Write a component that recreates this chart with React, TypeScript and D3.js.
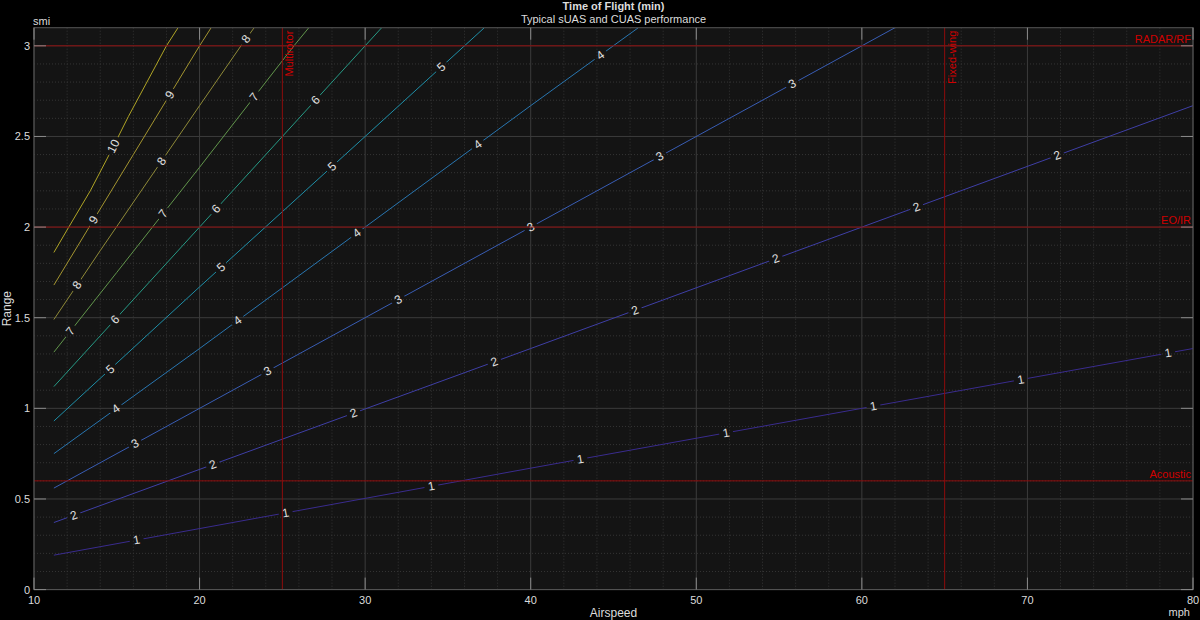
import React from 'react';
import * as d3 from 'd3';

// Time of flight contours: [airspeed mph, range smi]
const tof1: [number, number][] = [[11.2, 0.19], [40, 0.67], [80, 1.33]];
const tof2: [number, number][] = [[11.2, 0.37], [40, 1.33], [80, 2.67]];
const tof3: [number, number][] = [[11.2, 0.56], [30, 1.5], [62, 3.1]];
const tof4: [number, number][] = [[11.2, 0.75], [20, 1.33], [30, 2.0], [40, 2.67], [46.5, 3.1]];
const tof5: [number, number][] = [[11.2, 0.93], [20, 1.67], [30, 2.5], [37.2, 3.1]];
const tof6: [number, number][] = [[11.2, 1.12], [20, 2.0], [30, 3.0], [31, 3.1]];
const tof7: [number, number][] = [[11.2, 1.31], [15, 1.75], [20, 2.33], [25.7, 3.0], [26.6, 3.1]];
const tof8: [number, number][] = [[11.2, 1.49], [14, 1.87], [17, 2.27], [20, 2.67], [22.5, 3.0], [23.3, 3.1]];
const tof9: [number, number][] = [[11.2, 1.68], [13.6, 2.04], [16, 2.4], [18.2, 2.73], [20, 3.0], [20.7, 3.1]];
const tof10: [number, number][] = [[11.2, 1.86], [12.1, 2.0], [13.4, 2.2], [14.6, 2.41], [15.7, 2.61], [18, 3.0], [18.7, 3.1]];

const levels = [1, 2, 3, 4, 5, 6, 7, 8, 9, 10];
const contourLines = [tof1, tof2, tof3, tof4, tof5, tof6, tof7, tof8, tof9, tof10];

// airspeed where each level's inline label sits
const labelAt: number[][] = [
  [16.2, 25.2, 34.0, 43.0, 51.8, 60.7, 69.6, 78.5],
  [12.4, 20.8, 29.3, 37.8, 46.3, 54.8, 63.3, 71.8],
  [16.1, 24.1, 32.0, 40.0, 47.8, 55.8],
  [14.95, 22.3, 29.5, 36.8, 44.2],
  [14.6, 21.3, 28.0, 34.6],
  [14.9, 21.0, 27.0],
  [12.2, 17.8, 23.3],
  [12.6, 17.7, 22.8],
  [13.6, 18.2],
  [14.8],
];

const xTicks = [10, 20, 30, 40, 50, 60, 70, 80];
const yTicks = [0, 0.5, 1, 1.5, 2, 2.5, 3];

const speedMarkers = [{ v: 25, name: 'Multirotor' }, { v: 65, name: 'Fixed-wing' }];
const rangeMarkers = [{ r: 0.6, name: 'Acoustic' }, { r: 2, name: 'EO/IR' }, { r: 3, name: 'RADAR/RF' }];

const lineColors = ['#3a2c8e', '#3f3fa6', '#395db4', '#2976b0', '#1f8fa8', '#279a86', '#62964c', '#8f8a38', '#a49530', '#b0a526'];

const W = 1200;
const H = 620;
const L = 34;
const R = 1193;
const T = 27.7;
const B = 589.6;
const font = '"Liberation Sans", Arial, Helvetica, sans-serif';

const x = d3.scaleLinear().domain([10, 80]).range([L, R]);
const y = d3.scaleLinear().domain([0, 3.1]).range([B, T]);

const line = d3.line<[number, number]>().x((d) => x(d[0])).y((d) => y(d[1]));

function pointOn(pts: [number, number][], v: number) {
  let i = 0;
  while (i < pts.length - 2 && pts[i + 1][0] < v) i++;
  const a = pts[i];
  const b = pts[i + 1];
  const t = (v - a[0]) / (b[0] - a[0]);
  const r = a[1] + t * (b[1] - a[1]);
  const ang = (Math.atan2(y(b[1]) - y(a[1]), x(b[0]) - x(a[0])) * 180) / Math.PI;
  return { px: x(v), py: y(r), ang };
}

const labels = levels.flatMap((lev, k) =>
  labelAt[k].map((v) => ({ lev, ...pointOn(contourLines[k], v) }))
);

const minorX = d3.range(12, 80, 2).filter((v) => v % 10 !== 0);
const minorY = d3.range(1, 31).map((i) => i / 10).filter((v) => Math.round(v * 10) % 5 !== 0);

export default function App() {
  return (
    <svg
      width={W}
      height={H}
      style={{ position: 'absolute', left: 0, top: 0, background: '#000', fontFamily: font }}
    >
      <defs>
        <clipPath id="plot">
          <rect x={L} y={T} width={R - L} height={B - T} />
        </clipPath>
        <mask id="gaps" maskUnits="userSpaceOnUse" x={0} y={0} width={W} height={H}>
          <rect x={0} y={0} width={W} height={H} fill="#fff" />
          {labels.map((d, i) => {
            const w = d.lev === 10 ? 20 : 14;
            return (
              <rect
                key={i}
                x={-w / 2}
                y={-6}
                width={w}
                height={12}
                fill="#000"
                transform={`translate(${d.px},${d.py}) rotate(${d.ang})`}
              />
            );
          })}
        </mask>
      </defs>

      <rect x={L} y={T} width={R - L} height={B - T} fill="#141414" />

      {/* minor grid */}
      <g stroke="#353535" strokeWidth={1} strokeDasharray="1,2">
        {minorX.map((v) => (
          <line key={'mx' + v} x1={x(v)} x2={x(v)} y1={T} y2={B} />
        ))}
        {minorY.map((v) => (
          <line key={'my' + v} x1={L} x2={R} y1={y(v)} y2={y(v)} />
        ))}
      </g>
      {/* major grid */}
      <g stroke="#3c3c3c" strokeWidth={1}>
        {xTicks.map((v) => (
          <line key={'gx' + v} x1={x(v)} x2={x(v)} y1={T} y2={B} />
        ))}
        {yTicks.map((v) => (
          <line key={'gy' + v} x1={L} x2={R} y1={y(v)} y2={y(v)} />
        ))}
      </g>

      {/* contour lines */}
      <g clipPath="url(#plot)" mask="url(#gaps)" fill="none" strokeWidth={1}>
        {contourLines.map((pts, k) => (
          <path key={k} d={line(pts) || ''} stroke={lineColors[k]} />
        ))}
      </g>
      <g fill="#e0e0e0" fontSize={12} textAnchor="middle" dominantBaseline="central">
        {labels.map((d, i) => (
          <text key={i} transform={`translate(${d.px},${d.py}) rotate(${d.ang})`}>
            {d.lev}
          </text>
        ))}
      </g>

      {/* sensor / platform markers */}
      <g stroke="#8e0c0c" strokeWidth={1}>
        {speedMarkers.map((m) => (
          <line key={m.name} x1={x(m.v)} x2={x(m.v)} y1={T} y2={B} />
        ))}
        {rangeMarkers.map((m) => (
          <line key={m.name} x1={L} x2={R} y1={y(m.r)} y2={y(m.r)} />
        ))}
      </g>
      <g fill="#d00000" fontSize={11}>
        {speedMarkers.map((m) => (
          <text
            key={m.name}
            textAnchor="end"
            transform={`translate(${x(m.v) + 11},${T + 3}) rotate(-90)`}
          >
            {m.name}
          </text>
        ))}
        {rangeMarkers.map((m) => (
          <text key={m.name} x={R - 2} y={y(m.r) - 3} textAnchor="end">
            {m.name}
          </text>
        ))}
      </g>

      {/* axes frame and ticks */}
      <rect x={L} y={T} width={R - L} height={B - T} fill="none" stroke="#555" strokeWidth={1} />
      <g stroke="#8a8a8a" strokeWidth={1}>
        {xTicks.map((v) => (
          <g key={'tx' + v}>
            <line x1={x(v)} x2={x(v)} y1={B} y2={B - 12} />
            <line x1={x(v)} x2={x(v)} y1={T} y2={T + 12} />
          </g>
        ))}
        {yTicks.map((v) => (
          <g key={'ty' + v}>
            <line x1={L} x2={L + 12} y1={y(v)} y2={y(v)} />
            <line x1={R} x2={R - 12} y1={y(v)} y2={y(v)} />
          </g>
        ))}
      </g>
      <g fill="#dcdcdc" fontSize={11}>
        {xTicks.map((v) => (
          <text key={'lx' + v} x={x(v)} y={B + 14} textAnchor="middle">
            {v}
          </text>
        ))}
        {yTicks.map((v) => (
          <text key={'ly' + v} x={L - 4} y={y(v) + 4} textAnchor="end">
            {v}
          </text>
        ))}
        <text x={L - 1} y={T - 3}>smi</text>
        <text x={R - 3} y={B + 26} textAnchor="end">mph</text>
        <text x={(L + R) / 2} y={B + 27} textAnchor="middle" fontSize={12}>
          Airspeed
        </text>
        <text transform={`translate(11,${(T + B) / 2}) rotate(-90)`} textAnchor="middle" fontSize={12}>
          Range
        </text>
        <text x={(L + R) / 2} y={10} textAnchor="middle" fontWeight="bold" fontSize={11}>
          Time of Flight (min)
        </text>
        <text x={(L + R) / 2} y={23} textAnchor="middle" fontSize={11}>
          Typical sUAS and CUAS performance
        </text>
      </g>
    </svg>
  );
}
